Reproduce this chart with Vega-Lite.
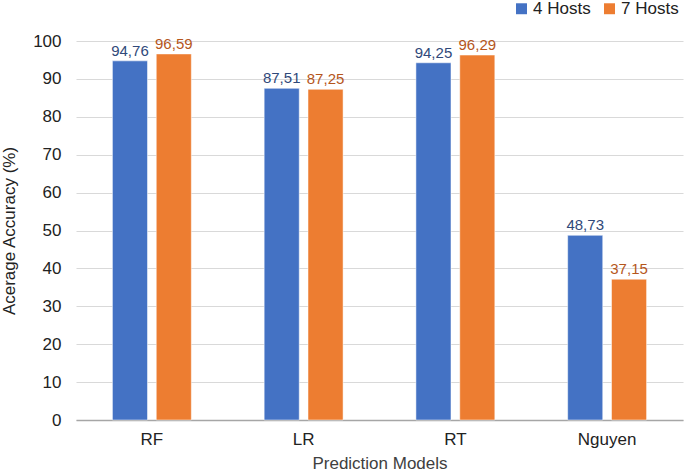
{
  "$schema": "https://vega.github.io/schema/vega-lite/v6.json",
  "width": 607,
  "height": 379,
  "autosize": {"type": "none"},
  "padding": {"left": 76, "top": 41, "right": 2, "bottom": 52},
  "background": "white",
  "config": {
    "font": "Liberation Sans",
    "view": {"stroke": null}
  },
  "data": {
    "values": [
      {"model": "RF", "hosts": "4 Hosts", "acc": 94.76, "label": "94,76"},
      {"model": "RF", "hosts": "7 Hosts", "acc": 96.59, "label": "96,59"},
      {"model": "LR", "hosts": "4 Hosts", "acc": 87.51, "label": "87,51"},
      {"model": "LR", "hosts": "7 Hosts", "acc": 87.25, "label": "87,25"},
      {"model": "RT", "hosts": "4 Hosts", "acc": 94.25, "label": "94,25"},
      {"model": "RT", "hosts": "7 Hosts", "acc": 96.29, "label": "96,29"},
      {"model": "Nguyen", "hosts": "4 Hosts", "acc": 48.73, "label": "48,73"},
      {"model": "Nguyen", "hosts": "7 Hosts", "acc": 37.15, "label": "37,15"}
    ]
  },
  "encoding": {
    "x": {
      "field": "model",
      "type": "nominal",
      "sort": ["RF", "LR", "RT", "Nguyen"],
      "scale": {"paddingInner": 0.48, "paddingOuter": 0.24},
      "axis": {
        "title": "Prediction Models",
        "titleFontSize": 17,
        "titleFontWeight": "normal",
        "titleColor": "#404040",
        "titlePadding": 8,
        "labelFontSize": 17,
        "labelColor": "#222222",
        "labelAngle": 0,
        "labelPadding": 11,
        "ticks": false,
        "domainColor": "#A6A6A6",
        "domainWidth": 1.5
      }
    },
    "xOffset": {
      "field": "hosts",
      "type": "nominal",
      "scale": {"paddingInner": 0.2, "paddingOuter": 0}
    },
    "y": {
      "field": "acc",
      "type": "quantitative",
      "scale": {"domain": [0, 100], "nice": false},
      "axis": {
        "title": "Acerage Accuracy (%)",
        "titleFontSize": 17,
        "titleFontWeight": "normal",
        "titleColor": "#222222",
        "titlePadding": 14,
        "labelFontSize": 17,
        "labelColor": "#222222",
        "labelPadding": 15,
        "values": [0, 10, 20, 30, 40, 50, 60, 70, 80, 90, 100],
        "ticks": false,
        "domain": false,
        "gridColor": "#D9D9D9",
        "gridWidth": 1
      }
    }
  },
  "layer": [
    {
      "mark": {"type": "bar", "stroke": "white", "strokeWidth": 0.5},
      "encoding": {
        "color": {
          "field": "hosts",
          "type": "nominal",
          "scale": {"domain": ["4 Hosts", "7 Hosts"], "range": ["#4472C4", "#ED7D31"]},
          "legend": {
            "title": null,
            "orient": "none",
            "direction": "horizontal",
            "legendX": 437,
            "legendY": -41,
            "symbolType": "square",
            "symbolSize": 120,
            "symbolStrokeWidth": 0,
            "labelFontSize": 17,
            "labelColor": "#222222",
            "columnPadding": 10,
            "labelOffset": 3
          }
        }
      }
    },
    {
      "mark": {"type": "text", "dy": -10, "fontSize": 15},
      "encoding": {
        "text": {"field": "label"},
        "fill": {
          "field": "hosts",
          "type": "nominal",
          "scale": {"domain": ["4 Hosts", "7 Hosts"], "range": ["#30497A", "#B5561C"]},
          "legend": null
        }
      }
    }
  ]
}
